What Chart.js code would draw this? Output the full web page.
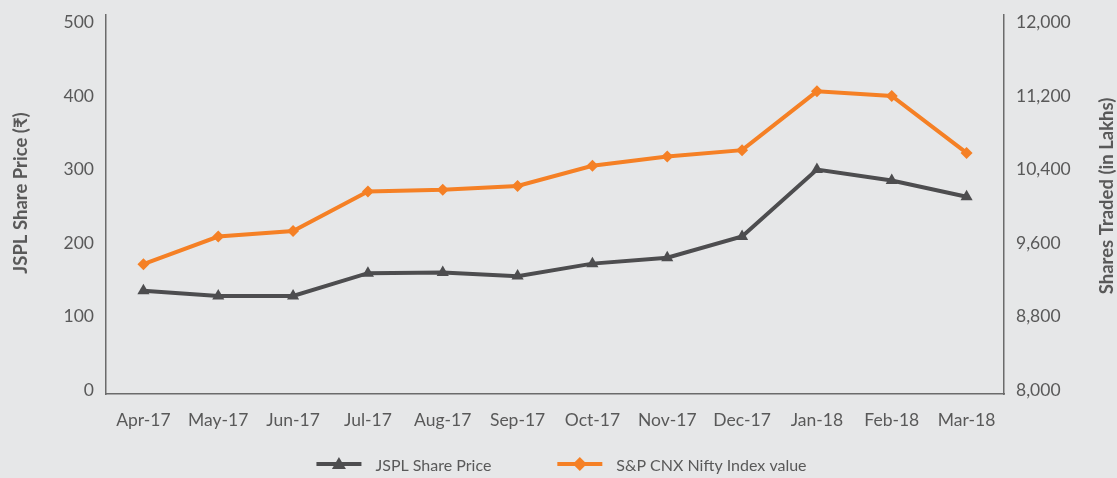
<!DOCTYPE html>
<html>
<head>
<meta charset="utf-8">
<script src="https://cdn.jsdelivr.net/npm/chart.js@4.4.1/dist/chart.umd.min.js"></script>
<style>
  html, body { margin: 0; padding: 0; background: #e6e7e8; }
  #wrap { width: 1117px; height: 478px; }
</style>
</head>
<body>
<div id="wrap"><canvas id="jsplChart" width="1117" height="478"></canvas></div>
<script>
const months = ["Apr-17", "May-17", "Jun-17", "Jul-17", "Aug-17", "Sep-17",
  "Oct-17", "Nov-17", "Dec-17", "Jan-18", "Feb-18", "Mar-18"];
const sharePrice = [135, 128, 128, 159, 160, 155, 172, 180, 209, 300, 285, 263];
const niftyIndex = [9370, 9670, 9730, 10160, 10180, 10220, 10440, 10540, 10610, 11250, 11200, 10580];
const priceTicks = [0, 100, 200, 300, 400, 500];
const indexTicks = [8000, 8800, 9600, 10400, 11200, 12000];

const textColor = "#595959";
const axisColor = "#6b6b6b";
const darkLine = "#4d4d4f";
const orangeLine = "#f58025";
const fontName = "Lato";

// titles + legend drawn by hand (right title reads bottom-to-top)
const extrasPlugin = {
  id: "extras",
  afterDraw(chart) {
    const ctx = chart.ctx;
    ctx.save();
    ctx.fillStyle = textColor;
    ctx.font = "bold 18.5px " + fontName;
    ctx.textAlign = "center";
    ctx.textBaseline = "middle";

    ctx.save();
    ctx.translate(21, 193);
    ctx.rotate(-Math.PI / 2);
    ctx.fillText("JSPL Share Price (₹)", 0, 0);
    ctx.restore();

    ctx.save();
    ctx.translate(1107, 196);
    ctx.rotate(-Math.PI / 2);
    ctx.fillText("Shares Traded (in Lakhs)", 0, 0);
    ctx.restore();

    // legend
    ctx.font = "16px " + fontName;
    ctx.textAlign = "left";
    const sets = chart.data.datasets;
    const lineLen = 45, gap = 14, itemGap = 66;
    const widths = sets.map(d => ctx.measureText(d.label).width);
    const total = sets.length * (lineLen + gap) + widths.reduce((a, b) => a + b, 0) + itemGap * (sets.length - 1);
    let x = 561.5 - total / 2;
    const y = 464;
    sets.forEach((d, i) => {
      ctx.strokeStyle = d.borderColor;
      ctx.lineWidth = 4;
      ctx.beginPath();
      ctx.moveTo(x, y);
      ctx.lineTo(x + lineLen, y);
      ctx.stroke();
      ctx.fillStyle = d.borderColor;
      const cx = x + lineLen / 2;
      ctx.beginPath();
      if (d.pointStyle === "triangle") {
        ctx.moveTo(cx, y - 7);
        ctx.lineTo(cx + 7, y + 5);
        ctx.lineTo(cx - 7, y + 5);
      } else {
        ctx.moveTo(cx, y - 7);
        ctx.lineTo(cx + 7, y);
        ctx.lineTo(cx, y + 7);
        ctx.lineTo(cx - 7, y);
      }
      ctx.closePath();
      ctx.fill();
      ctx.fillStyle = textColor;
      ctx.fillText(d.label, x + lineLen + gap, y + 2);
      x += lineLen + gap + widths[i] + itemGap;
    });
    ctx.restore();
  }
};

const ctxEl = document.getElementById("jsplChart").getContext("2d");

new Chart(ctxEl, {
  type: "line",
  data: {
    labels: months,
    datasets: [
      {
        label: "JSPL Share Price",
        data: sharePrice,
        yAxisID: "y",
        borderColor: darkLine,
        backgroundColor: darkLine,
        borderWidth: 4,
        pointStyle: "triangle",
        pointRadius: 7,
        pointBorderWidth: 0,
        tension: 0,
      },
      {
        label: "S&P CNX Nifty Index value",
        data: niftyIndex,
        yAxisID: "y1",
        borderColor: orangeLine,
        backgroundColor: orangeLine,
        borderWidth: 4,
        pointStyle: "rectRot",
        pointRadius: 6,
        pointBorderWidth: 0,
        tension: 0,
      },
    ],
  },
  options: {
    responsive: false,
    animation: false,
    layout: { padding: { top: 0, bottom: 44, left: 0, right: 0 } },
    plugins: {
      legend: { display: false },
      tooltip: { enabled: false },
    },
    scales: {
      x: {
        offset: true,
        grid: { display: false },
        border: { display: true, color: axisColor, width: 1.5 },
        ticks: { color: textColor, font: { family: fontName, size: 17.5 }, padding: 8, maxRotation: 0 },
        afterFit: (s) => { s.height = 40; },
      },
      y: {
        position: "left",
        min: -5.4,
        max: 511,
        grid: { display: false },
        border: { display: true, color: axisColor, width: 1.5 },
        ticks: { color: textColor, font: { family: fontName, size: 17.5 }, padding: 4 },
        afterBuildTicks: (s) => { s.ticks = priceTicks.map(v => ({ value: v })); },
        afterFit: (s) => { s.width = 106; },
      },
      y1: {
        position: "right",
        min: 7957,
        max: 12086,
        grid: { display: false },
        border: { display: true, color: axisColor, width: 1.5 },
        ticks: {
          color: textColor,
          font: { family: fontName, size: 17.5 },
          padding: 4,
          callback: (v) => v.toLocaleString("en-US"),
        },
        afterBuildTicks: (s) => { s.ticks = indexTicks.map(v => ({ value: v })); },
        afterFit: (s) => { s.width = 113; },
      },
    },
  },
  plugins: [extrasPlugin],
});
</script>
</body>
</html>
